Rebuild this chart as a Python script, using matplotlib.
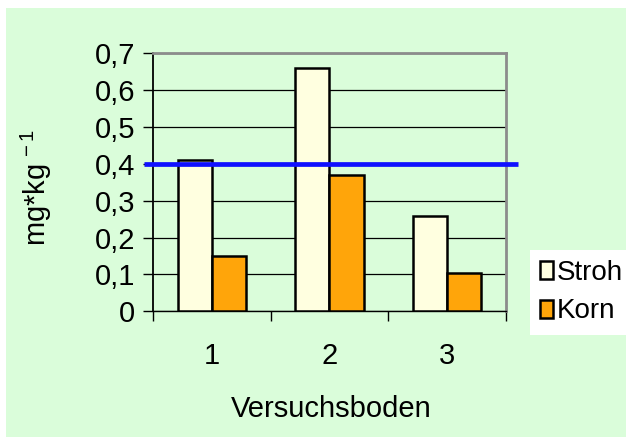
import numpy as np
import matplotlib
matplotlib.use("Agg")
import matplotlib.pyplot as plt
from matplotlib.patches import Rectangle

plt.rcParams["font.family"] = ["Liberation Sans", "DejaVu Sans"]
plt.rcParams["mathtext.fontset"] = "custom"
plt.rcParams["mathtext.rm"] = "Liberation Sans"
plt.rcParams["mathtext.it"] = "Liberation Sans"

# data
categories = ["1", "2", "3"]
stroh = [0.41, 0.66, 0.26]
korn = [0.15, 0.37, 0.105]
limit = 0.4
yticks = [0, 0.1, 0.2, 0.3, 0.4, 0.5, 0.6, 0.7]
ytick_labels = ["0", "0,1", "0,2", "0,3", "0,4", "0,5", "0,6", "0,7"]

bg = "#DAFDDA"
stroh_color = "#FFFFE0"
korn_color = "#FFA50A"

fig = plt.figure(figsize=(6.26, 4.41), dpi=100, facecolor="white")
# green chart area with a thin white margin
fig.patches.append(Rectangle((6 / 626, 4 / 441), 1, 1 - 12 / 441,
                             transform=fig.transFigure, facecolor=bg,
                             edgecolor="none", zorder=-10))

ax = fig.add_axes([0.2444, 0.294, 0.5639, 0.585])
ax.set_facecolor(bg)

x = np.arange(len(categories))
w = 0.29
ax.bar(x - w / 2, stroh, w, color=stroh_color, edgecolor="black",
       linewidth=1.8, label="Stroh", zorder=3)
ax.bar(x + w / 2, korn, w, color=korn_color, edgecolor="black",
       linewidth=1.8, label="Korn", zorder=3)

# limit line, a bit wider than the plot area
ax.plot([-0.58, 2.6], [limit, limit], color="#1010FF", lw=3.4,
        clip_on=False, zorder=5, solid_capstyle="butt")

ax.set_xlim(-0.5, 2.5)
ax.set_ylim(0, 0.7)
ax.set_yticks(yticks)
ax.set_yticklabels(ytick_labels, fontsize=21)
ax.yaxis.grid(True, color="black", lw=0.9)
ax.set_axisbelow(True)

# category ticks sit between groups, labels centred under them
ax.set_xticks([-0.5, 0.5, 1.5, 2.5])
ax.set_xticklabels([])
ax.set_xticks(x, minor=True)
ax.set_xticklabels(categories, minor=True, fontsize=21)
ax.tick_params(axis="x", which="minor", length=0, pad=22)
ax.tick_params(axis="x", which="major", length=7, width=1, color="black")
ax.tick_params(axis="y", length=7, width=1, pad=6)

for side in ("top", "right"):
    ax.spines[side].set_color("#8C8C8C")
    ax.spines[side].set_linewidth(2)
ax.spines["left"].set_color("black")
ax.spines["left"].set_linewidth(1.3)
ax.spines["bottom"].set_color("black")
ax.spines["bottom"].set_linewidth(1)

fig.text(331 / 626, 1 - 409 / 441, "Versuchsboden", fontsize=21,
         ha="center", va="center")
fig.text(36 / 626, 1 - 188 / 441, r"mg*kg$^{\,-1}$", fontsize=21,
         rotation=90, ha="center", va="center")

leg = fig.legend(loc="upper left", bbox_to_anchor=(530 / 626, 1 - 250 / 441),
                 fontsize=20, frameon=True, fancybox=False, framealpha=1,
                 facecolor="white", edgecolor="none", handlelength=0.47,
                 handleheight=0.61, handletextpad=0.15, labelspacing=0.45,
                 borderpad=0.36, borderaxespad=0)

fig.savefig("out.png", dpi=100, facecolor="white")
